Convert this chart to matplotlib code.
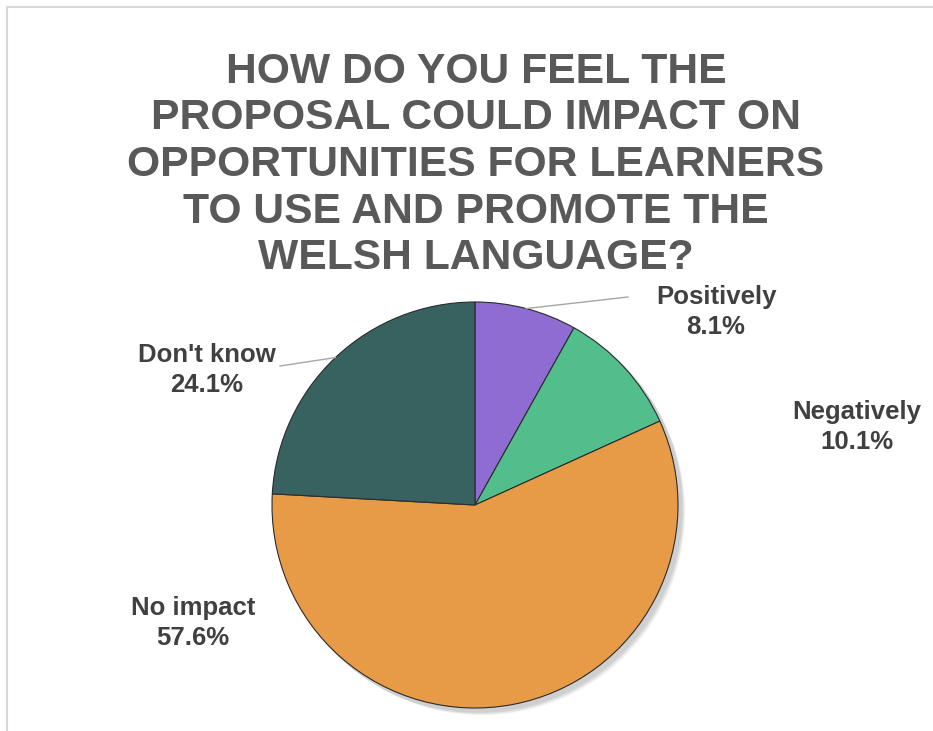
import numpy as np
import matplotlib.pyplot as plt
from matplotlib.patches import Rectangle, Circle

plt.rcParams['font.family'] = ['Liberation Sans', 'DejaVu Sans']

# survey answers, clockwise from 12 o'clock
answers = ["Positively", "Negatively", "No impact", "Don't know"]
shares = [8.1, 10.1, 57.6, 24.1]
colours = ["#8E6CD2", "#52BE8C", "#E89B46", "#376260"]

title = ("HOW DO YOU FEEL THE\nPROPOSAL COULD IMPACT ON\n"
         "OPPORTUNITIES FOR LEARNERS\nTO USE AND PROMOTE THE\n"
         "WELSH LANGUAGE?")

W, H = 933, 731
fig = plt.figure(figsize=(W / 100, H / 100), dpi=100)
ax = fig.add_axes([0, 0, 1, 1])
ax.set_xlim(0, W)
ax.set_ylim(0, H)
ax.set_aspect("equal")
ax.axis("off")

# chart frame (right and bottom edges sit outside the picture)
ax.add_patch(Rectangle((6.5, -20), W + 20, H - 6.5 + 20, fill=False,
                       edgecolor="#d9d9d9", linewidth=1.5))

cx, cy, r = 475, H - 505, 203

# soft shadow under the pie
for k in range(8):
    ax.add_patch(Circle((cx + 3 + k * 0.6, cy - 3 - k * 0.6), r + 1.5 - k * 0.2,
                        color="black", alpha=0.025, linewidth=0, zorder=1))

wedges, _ = ax.pie(shares, colors=colours, startangle=90, counterclock=False,
                   center=(cx, cy), radius=r,
                   wedgeprops=dict(edgecolor="#2b2b2b", linewidth=0.8))
for w in wedges:
    w.set_zorder(2)
ax.set_xlim(0, W)
ax.set_ylim(0, H)

fig.text(476 / W, 1 - 165 / H, title, ha="center", va="center",
         fontsize=30.7, fontweight="bold", color="#595959", linespacing=1.21)

# label positions (pixel, from top) and leader line ends
label_pos = [(716, 312), (857, 427), (193, 623), (207, 370)]
leaders = {0: (628, 297), 3: (280, 366)}

for i, (name, val) in enumerate(zip(answers, shares)):
    lx, ly = label_pos[i]
    ax.text(lx, H - ly, f"{name}\n{val:.1f}%", ha="center", va="center",
            fontsize=18.5, fontweight="bold", color="#404040", linespacing=1.3)
    if i in leaders:
        w = wedges[i]
        mid = np.deg2rad((w.theta1 + w.theta2) / 2)
        x0, y0 = cx + r * np.cos(mid), cy + r * np.sin(mid)
        ex, ey = leaders[i]
        ax.plot([x0, ex], [y0, H - ey], color="#a6a6a6", linewidth=1.0,
                zorder=3)

fig.savefig("out.png", dpi=100)
